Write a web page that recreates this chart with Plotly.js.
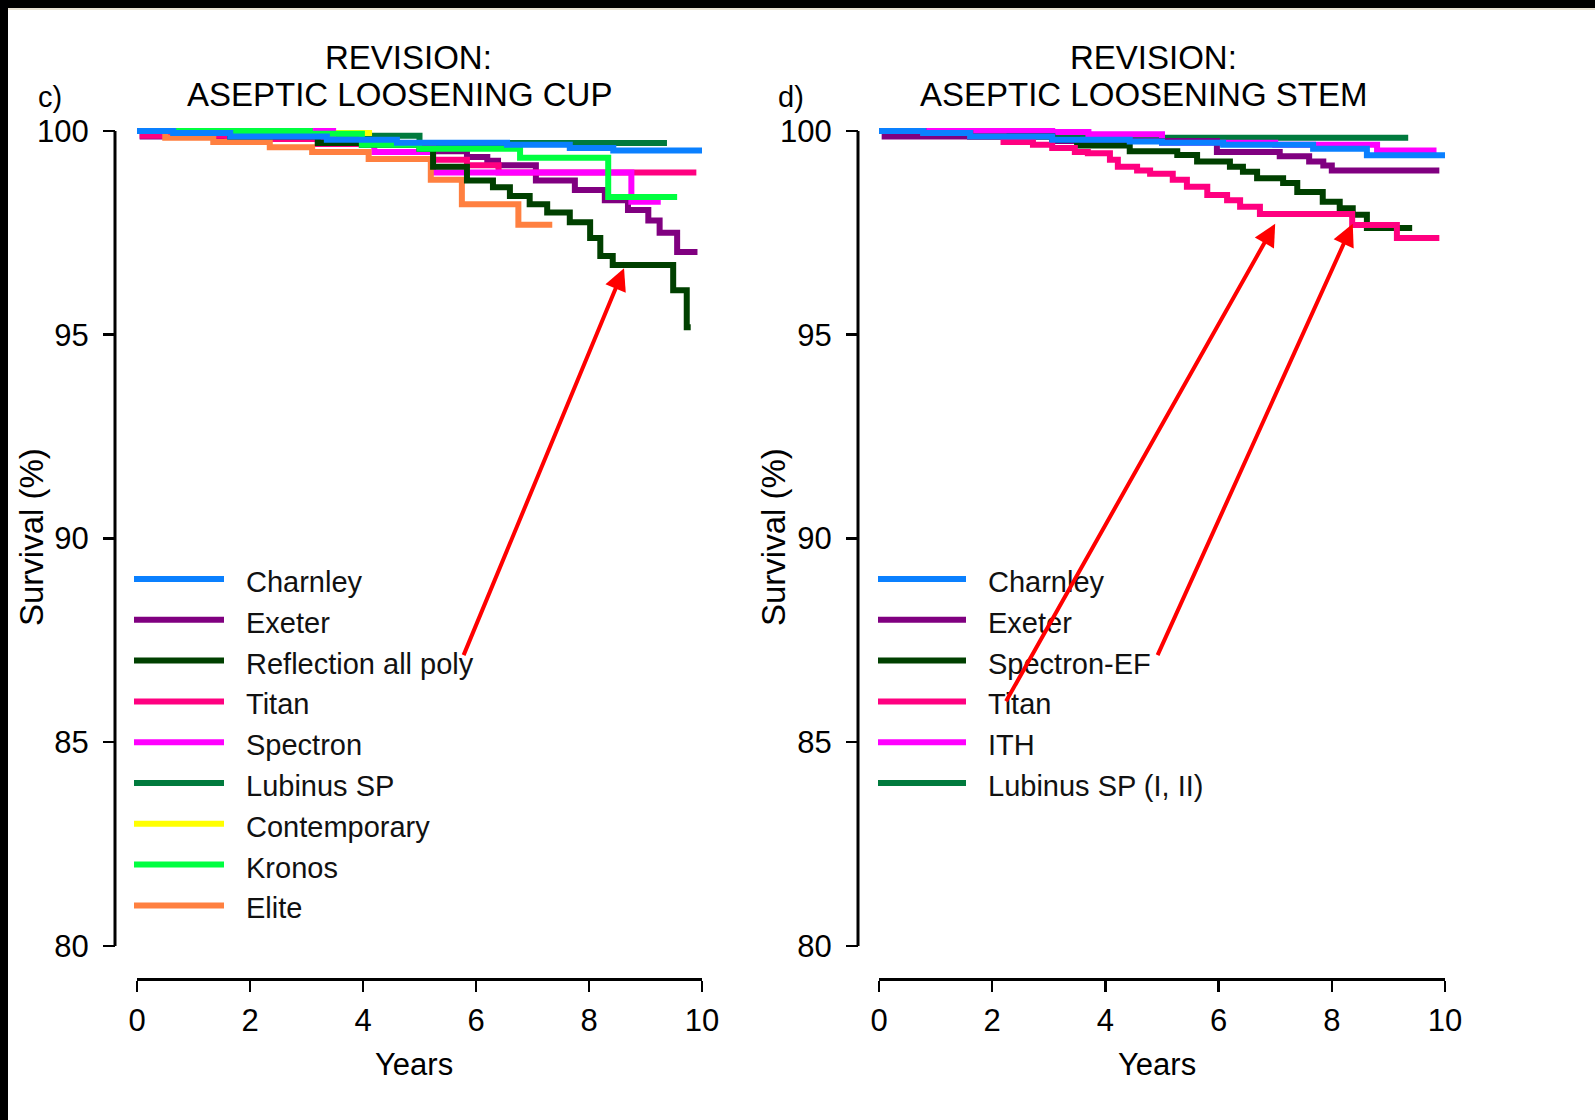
<!DOCTYPE html>
<html><head><meta charset="utf-8">
<script src="https://cdn.plot.ly/plotly-3.0.1.min.js"></script>
<style>html,body{margin:0;padding:0;background:#fff;}#chart{width:1595px;height:1120px;}</style>
</head><body><div id="chart"></div>
<script>
// ---------- Panel c) Revision: aseptic loosening cup ----------
const cupNames = ["Charnley","Exeter","Reflection all poly","Titan","Spectron","Lubinus SP","Contemporary","Kronos","Elite"];
const cupColors = ["#0A80FF","#800080","#004000","#FF0080","#FF00FF","#007A3D","#FFFF00","#00FF40","#FF8040"];

const charnleyCupYears = [0,0.64,1.65,3.36,4.6,6.55,7.66,8.43,10];
const charnleyCupSurv  = [100,99.95,99.86,99.78,99.71,99.66,99.58,99.52,99.52];
const exeterCupYears = [0,0.1,3.3,5.2,5.84,6.2,6.39,7.06,7.75,8.28,8.69,9.05,9.25,9.56,9.92];
const exeterCupSurv  = [100,99.86,99.7,99.5,99.36,99.27,99.16,98.78,98.55,98.3,98.06,97.8,97.5,97.03,97.03];
const reflectionYears = [0,1.65,3.2,3.98,5.0,5.24,5.84,6.3,6.6,6.95,7.26,7.66,8.02,8.2,8.42,9.49,9.73,9.8];
const reflectionSurv  = [100,99.86,99.7,99.66,99.56,99.12,98.78,98.62,98.4,98.2,98.0,97.76,97.37,96.93,96.71,96.09,95.18,95.18];
const titanCupYears = [0,0.1,1.6,3.2,5.24,5.84,6.4,9.9];
const titanCupSurv  = [100,99.88,99.8,99.68,99.29,99.16,98.98,98.98];
const spectronYears = [0,3.47,4.2,5.24,8.75,9.27];
const spectronSurv  = [100,99.7,99.48,98.98,98.26,98.26];
const lubinusCupYears = [0,3.47,3.98,5.0,9.38];
const lubinusCupSurv  = [100,99.93,99.88,99.7,99.7];
const contemporaryYears = [0,3.06,4.16];
const contemporarySurv  = [100,99.95,99.95];
const kronosYears = [0,3.06,3.98,5.0,6.78,8.34,9.56];
const kronosSurv  = [100,99.93,99.66,99.56,99.34,98.38,98.38];
const eliteYears = [0,0.5,1.35,2.35,3.1,4.1,5.2,5.75,6.75,7.35];
const eliteSurv  = [100,99.83,99.73,99.6,99.48,99.31,98.8,98.2,97.7,97.7];

// ---------- Panel d) Revision: aseptic loosening stem ----------
const stemNames = ["Charnley","Exeter","Spectron-EF","Titan","ITH","Lubinus SP (I, II)"];
const stemColors = ["#0A80FF","#800080","#004000","#FF0080","#FF00FF","#007A3D"];

const charnleyStemYears = [0,0.78,1.61,3.06,4.43,5.0,6.08,7.67,8.62,10];
const charnleyStemSurv  = [100,99.95,99.86,99.78,99.74,99.71,99.66,99.56,99.4,99.4];
const exeterStemYears = [0,0.1,3.06,5.97,7.08,7.6,7.85,8.0,9.9];
const exeterStemSurv  = [100,99.86,99.75,99.48,99.38,99.25,99.15,99.03,99.03];
const spectronEFYears = [0,0.78,1.61,3.06,3.5,4.43,5.27,5.62,6.2,6.43,6.68,7.14,7.39,7.84,8.14,8.37,8.62,9.42];
const spectronEFSurv  = [100,99.95,99.86,99.78,99.64,99.5,99.41,99.25,99.12,99.0,98.84,98.72,98.5,98.26,98.1,97.94,97.62,97.62];
const titanStemYears = [0,0.78,1.61,2.2,2.72,3.06,3.46,3.69,4.08,4.22,4.56,4.79,5.19,5.44,5.8,6.15,6.38,6.73,8.36,9.15,9.9];
const titanStemSurv  = [100,99.95,99.86,99.73,99.66,99.58,99.48,99.45,99.29,99.12,99.03,98.95,98.8,98.63,98.43,98.3,98.14,97.96,97.69,97.37,97.37];
const ithYears = [0,3.06,3.7,5.0,7.0,8.8,9.85];
const ithSurv  = [100,99.97,99.92,99.71,99.66,99.52,99.52];
const lubinusStemYears = [0,1.61,3.06,5.0,9.35];
const lubinusStemSurv  = [100,99.97,99.88,99.83,99.83];

// ---------- Axis ticks and texts ----------
const xTicks = [0,2,4,6,8,10];
const yTicks = [80,85,90,95,100];
const panelTitlesTop = ["REVISION:","REVISION:"];
const panelTitlesBottom = ["ASEPTIC LOOSENING CUP","ASEPTIC LOOSENING STEM"];
const panelLetters = ["c)","d)"];
const xTitle = "Years";
const yTitle = "Survival (%)";

// red arrows [tailYears, tailSurv, tipYears, tipSurv]
const cupArrows  = [[5.77, 87.1, 8.62, 96.63]];
const stemArrows = [[2.23, 85.97, 7.0, 97.72],[4.91, 87.1, 8.37, 97.72]];

// ---------- Build ----------
const W = 1595, H = 1120;
const px = v => v / W, py = v => 1 - v / H;
const SANS = "'Liberation Sans',Arial,Helvetica,sans-serif";

function step(name, color, t, s, xa, ya) {
  return {type:'scatter', mode:'lines', name:name, x:t, y:s, xaxis:xa, yaxis:ya,
          line:{color:color, width:6, shape:'hv'}, showlegend:false, hoverinfo:'skip'};
}
const cc = cupColors, sc = stemColors;
const traces = [
  // cup panel, drawing order back-to-front
  step(cupNames[5], cc[5], lubinusCupYears, lubinusCupSurv, 'x', 'y'),
  step(cupNames[6], cc[6], contemporaryYears, contemporarySurv, 'x', 'y'),
  step(cupNames[1], cc[1], exeterCupYears, exeterCupSurv, 'x', 'y'),
  step(cupNames[3], cc[3], titanCupYears, titanCupSurv, 'x', 'y'),
  step(cupNames[4], cc[4], spectronYears, spectronSurv, 'x', 'y'),
  step(cupNames[8], cc[8], eliteYears, eliteSurv, 'x', 'y'),
  step(cupNames[2], cc[2], reflectionYears, reflectionSurv, 'x', 'y'),
  step(cupNames[7], cc[7], kronosYears, kronosSurv, 'x', 'y'),
  step(cupNames[0], cc[0], charnleyCupYears, charnleyCupSurv, 'x', 'y'),
  // stem panel
  step(stemNames[5], sc[5], lubinusStemYears, lubinusStemSurv, 'x2', 'y2'),
  step(stemNames[4], sc[4], ithYears, ithSurv, 'x2', 'y2'),
  step(stemNames[1], sc[1], exeterStemYears, exeterStemSurv, 'x2', 'y2'),
  step(stemNames[2], sc[2], spectronEFYears, spectronEFSurv, 'x2', 'y2'),
  step(stemNames[3], sc[3], titanStemYears, titanStemSurv, 'x2', 'y2'),
  step(stemNames[0], sc[0], charnleyStemYears, charnleyStemSurv, 'x2', 'y2')
];

const yDomain = [py(946), py(126)];
const xPos = py(979);
function xAxis(d0, d1) {
  return {domain:[px(d0), px(d1)], range:[0,10], anchor:'free', position:xPos,
    showline:true, linewidth:3, linecolor:'#000', ticks:'outside', ticklen:11, tickwidth:2.5,
    tickcolor:'#000', tickvals:xTicks, ticktext:xTicks.map(String), showgrid:false, zeroline:false,
    ticklabelstandoff:2, tickfont:{family:SANS, size:31, color:'#000'}, fixedrange:true};
}
function yAxis(pos) {
  return {domain:yDomain, range:[80,100.12], anchor:'free', position:px(pos),
    showline:false, ticks:'outside', ticklen:12, tickwidth:2.5, tickcolor:'#000',
    tickvals:yTicks, ticktext:yTicks.map(String), showgrid:false, zeroline:false,
    ticklabelstandoff:8, tickfont:{family:SANS, size:31, color:'#000'}, fixedrange:true};
}

const shapes = [
  {type:'line', xref:'paper', yref:'y', x0:px(115), x1:px(115), y0:80, y1:100, line:{color:'#000', width:3}},
  {type:'line', xref:'paper', yref:'y2', x0:px(858), x1:px(858), y0:80, y1:100, line:{color:'#000', width:3}},
  {type:'rect', xref:'paper', yref:'paper', x0:0, x1:1, y0:py(8), y1:1, fillcolor:'#000', line:{width:0}, layer:'above'},
  {type:'rect', xref:'paper', yref:'paper', x0:0, x1:1, y0:py(10), y1:py(8), fillcolor:'#E9E2D4', line:{width:0}, layer:'above'},
  {type:'rect', xref:'paper', yref:'paper', x0:0, x1:px(8), y0:0, y1:1, fillcolor:'#000', line:{width:0}, layer:'above'}
];
const annotations = [];

function txt(text, x, y, size, xanchor, angle) {
  annotations.push({text:text, xref:'paper', yref:'paper', x:px(x), y:py(y), xanchor:xanchor||'center',
    yanchor:'middle', showarrow:false, textangle:angle||0, borderpad:0,
    font:{family:SANS, size:size, color:'#000'}});
}
// panel titles
txt(panelTitlesTop[0], 408, 57, 33);
txt(panelTitlesBottom[0], 400, 94, 33);
txt(panelTitlesTop[1], 1153, 57, 33);
txt(panelTitlesBottom[1], 1143, 94, 33);
txt(panelLetters[0], 37, 97, 29, 'left');
txt(panelLetters[1], 777, 97, 29, 'left');
// axis titles
txt(xTitle, 414, 1064, 31);
txt(xTitle, 1157, 1064, 31);
txt(yTitle, 31, 537, 33, 'center', -90);
txt(yTitle, 773, 537, 33, 'center', -90);

// legends
function legend(names, colors, lineX0, lineX1, textX) {
  names.forEach((n, i) => {
    const yc = 582 + 40.8 * i;
    shapes.push({type:'line', xref:'paper', yref:'paper', x0:px(lineX0), x1:px(lineX1),
      y0:py(yc - 3), y1:py(yc - 3), line:{color:colors[i], width:6}});
    annotations.push({text:n, xref:'paper', yref:'paper', x:px(textX), y:py(yc), xanchor:'left',
      yanchor:'middle', showarrow:false, font:{family:SANS, size:29, color:'#111'}});
  });
}
legend(cupNames, cupColors, 134, 224, 244);
legend(stemNames, stemColors, 878, 966, 986);

// arrows
function arrows(list, xa, ya) {
  list.forEach(a => annotations.push({text:'', x:a[2], y:a[3], ax:a[0], ay:a[1], xref:xa, yref:ya,
    axref:xa, ayref:ya, showarrow:true, arrowhead:2, arrowsize:1.1, arrowwidth:4, arrowcolor:'#FF0000',
    standoff:0, startstandoff:0}));
}
arrows(cupArrows, 'x', 'y');
arrows(stemArrows, 'x2', 'y2');

const layout = {
  width:W, height:H, margin:{l:0, r:0, t:0, b:0}, paper_bgcolor:'#fff', plot_bgcolor:'rgba(0,0,0,0)',
  showlegend:false, font:{family:SANS, color:'#000'},
  xaxis:xAxis(137, 702), yaxis:yAxis(115),
  xaxis2:xAxis(879, 1445), yaxis2:yAxis(858),
  shapes:shapes, annotations:annotations
};
Plotly.newPlot('chart', traces, layout, {staticPlot:true, displayModeBar:false});
</script></body></html>
